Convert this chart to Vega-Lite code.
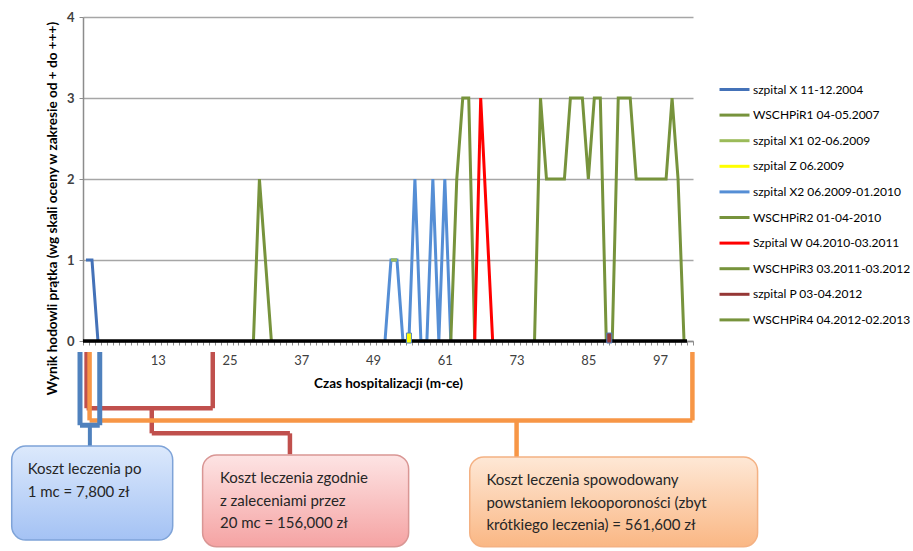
{
  "$schema": "https://vega.github.io/schema/vega-lite/v6.json",
  "width": 610,
  "height": 324,
  "autosize": {"type": "none"},
  "padding": {"left": 83, "top": 17, "right": 220, "bottom": 210},
  "background": "white",
  "config": {"font": "Lato", "view": {"stroke": null}, "axisX": {"labelOverlap": false}},
  "datasets": {
    "series": [
      {"series": "szpital X 11-12.2004", "month": 1, "value": 1},
      {"series": "szpital X 11-12.2004", "month": 2, "value": 1},
      {"series": "szpital X 11-12.2004", "month": 3, "value": 0},
      {"series": "WSCHPiR1 04-05.2007", "month": 29, "value": 0},
      {"series": "WSCHPiR1 04-05.2007", "month": 30, "value": 2},
      {"series": "WSCHPiR1 04-05.2007", "month": 31, "value": 1},
      {"series": "WSCHPiR1 04-05.2007", "month": 32, "value": 0},
      {"series": "szpital X1 02-06.2009", "month": 52, "value": 1},
      {"series": "szpital X1 02-06.2009", "month": 53, "value": 1},
      {"series": "szpital Z 06.2009", "month": 55, "value": 0},
      {"series": "szpital X2 06.2009-01.2010", "month": 51, "value": 0},
      {"series": "szpital X2 06.2009-01.2010", "month": 52, "value": 1},
      {"series": "szpital X2 06.2009-01.2010", "month": 53, "value": 1},
      {"series": "szpital X2 06.2009-01.2010", "month": 54, "value": 0},
      {"series": "szpital X2 06.2009-01.2010", "month": 55, "value": 0},
      {"series": "szpital X2 06.2009-01.2010", "month": 56, "value": 2},
      {"series": "szpital X2 06.2009-01.2010", "month": 57, "value": 0},
      {"series": "szpital X2 06.2009-01.2010", "month": 58, "value": 0},
      {"series": "szpital X2 06.2009-01.2010", "month": 59, "value": 2},
      {"series": "szpital X2 06.2009-01.2010", "month": 60, "value": 0},
      {"series": "szpital X2 06.2009-01.2010", "month": 61, "value": 2},
      {"series": "szpital X2 06.2009-01.2010", "month": 62, "value": 0},
      {"series": "WSCHPiR2 01-04-2010", "month": 62, "value": 0},
      {"series": "WSCHPiR2 01-04-2010", "month": 63, "value": 2},
      {"series": "WSCHPiR2 01-04-2010", "month": 64, "value": 3},
      {"series": "WSCHPiR2 01-04-2010", "month": 65, "value": 3},
      {"series": "WSCHPiR2 01-04-2010", "month": 66, "value": 0},
      {"series": "Szpital W 04.2010-03.2011", "month": 66, "value": 0},
      {"series": "Szpital W 04.2010-03.2011", "month": 67, "value": 3},
      {"series": "Szpital W 04.2010-03.2011", "month": 68, "value": 1.5},
      {"series": "Szpital W 04.2010-03.2011", "month": 69, "value": 0},
      {"series": "WSCHPiR3 03.2011-03.2012", "month": 76, "value": 0},
      {"series": "WSCHPiR3 03.2011-03.2012", "month": 77, "value": 3},
      {"series": "WSCHPiR3 03.2011-03.2012", "month": 78, "value": 2},
      {"series": "WSCHPiR3 03.2011-03.2012", "month": 79, "value": 2},
      {"series": "WSCHPiR3 03.2011-03.2012", "month": 80, "value": 2},
      {"series": "WSCHPiR3 03.2011-03.2012", "month": 81, "value": 2},
      {"series": "WSCHPiR3 03.2011-03.2012", "month": 82, "value": 3},
      {"series": "WSCHPiR3 03.2011-03.2012", "month": 83, "value": 3},
      {"series": "WSCHPiR3 03.2011-03.2012", "month": 84, "value": 3},
      {"series": "WSCHPiR3 03.2011-03.2012", "month": 85, "value": 2},
      {"series": "WSCHPiR3 03.2011-03.2012", "month": 86, "value": 3},
      {"series": "WSCHPiR3 03.2011-03.2012", "month": 87, "value": 3},
      {"series": "WSCHPiR3 03.2011-03.2012", "month": 88, "value": 0},
      {"series": "szpital P 03-04.2012", "month": 88, "value": 0},
      {"series": "szpital P 03-04.2012", "month": 89, "value": 0},
      {"series": "WSCHPiR4 04.2012-02.2013", "month": 89, "value": 0},
      {"series": "WSCHPiR4 04.2012-02.2013", "month": 90, "value": 3},
      {"series": "WSCHPiR4 04.2012-02.2013", "month": 91, "value": 3},
      {"series": "WSCHPiR4 04.2012-02.2013", "month": 92, "value": 3},
      {"series": "WSCHPiR4 04.2012-02.2013", "month": 93, "value": 2},
      {"series": "WSCHPiR4 04.2012-02.2013", "month": 94, "value": 2},
      {"series": "WSCHPiR4 04.2012-02.2013", "month": 95, "value": 2},
      {"series": "WSCHPiR4 04.2012-02.2013", "month": 96, "value": 2},
      {"series": "WSCHPiR4 04.2012-02.2013", "month": 97, "value": 2},
      {"series": "WSCHPiR4 04.2012-02.2013", "month": 98, "value": 2},
      {"series": "WSCHPiR4 04.2012-02.2013", "month": 99, "value": 3},
      {"series": "WSCHPiR4 04.2012-02.2013", "month": 100, "value": 2},
      {"series": "WSCHPiR4 04.2012-02.2013", "month": 101, "value": 0}
    ]
  },
  "layer": [
    {
      "data": {"name": "series"},
      "mark": {"type": "line", "strokeWidth": 3},
      "encoding": {
        "x": {
          "field": "month",
          "type": "quantitative",
          "scale": {"domain": [0.5, 102.5], "nice": false, "zero": false},
          "axis": {
            "title": "Czas hospitalizacji (m-ce)",
            "values": [0.5,1.5,2.5,3.5,4.5,5.5,6.5,7.5,8.5,9.5,10.5,11.5,12.5,13.5,14.5,15.5,16.5,17.5,18.5,19.5,20.5,21.5,22.5,23.5,24.5,25.5,26.5,27.5,28.5,29.5,30.5,31.5,32.5,33.5,34.5,35.5,36.5,37.5,38.5,39.5,40.5,41.5,42.5,43.5,44.5,45.5,46.5,47.5,48.5,49.5,50.5,51.5,52.5,53.5,54.5,55.5,56.5,57.5,58.5,59.5,60.5,61.5,62.5,63.5,64.5,65.5,66.5,67.5,68.5,69.5,70.5,71.5,72.5,73.5,74.5,75.5,76.5,77.5,78.5,79.5,80.5,81.5,82.5,83.5,84.5,85.5,86.5,87.5,88.5,89.5,90.5,91.5,92.5,93.5,94.5,95.5,96.5,97.5,98.5,99.5,100.5,101.5,102.5],
            "tickCount": 200,
            "labelExpr": "(datum.value - 12.5) % 12 == 0 && datum.value > 1 && datum.value < 100 ? format(datum.value + 0.5, 'd') : ''",
            "labelOffset": 3,
            "labelOverlap": false,
            "labelFlush": false,
            "labelBound": false,
            "labelPadding": 9,
            "labelFontSize": 13,
            "grid": false,
            "domainColor": "#8c8c8c",
            "domainWidth": 1.5,
            "tickColor": "#8c8c8c",
            "tickSize": 4,
            "tickWidth": 1,
            "labelColor": "#404040",
            "titleFontSize": 13.5,
            "titleFontWeight": "bold",
            "titleColor": "#000000",
            "titleY": 42,
            "titleBaseline": "middle"
          }
        },
        "y": {
          "field": "value",
          "type": "quantitative",
          "scale": {"domain": [0, 4], "nice": false},
          "axis": {
            "title": "Wynik hodowli prątka (wg  skali oceny w zakresie od + do +++)",
            "values": [0, 1, 2, 3, 4],
            "format": "d",
            "grid": true,
            "gridColor": "#a6a6a6",
            "gridWidth": 1.5,
            "domainColor": "#8c8c8c",
            "domainWidth": 1.5,
            "tickColor": "#8c8c8c",
            "tickSize": 4,
            "labelFontSize": 13,
            "labelFontWeight": "bold",
            "labelColor": "#404040",
            "labelPadding": 5,
            "titleFontSize": 13.6,
            "titleFontWeight": "bold",
            "titleColor": "#000000",
            "titleX": -31,
            "titleY": 191,
            "titleBaseline": "middle"
          }
        },
        "color": {
          "field": "series",
          "type": "nominal",
          "scale": {
            "domain": ["szpital X 11-12.2004", "WSCHPiR1 04-05.2007", "szpital X1 02-06.2009", "szpital Z 06.2009", "szpital X2 06.2009-01.2010", "WSCHPiR2 01-04-2010", "Szpital W 04.2010-03.2011", "WSCHPiR3 03.2011-03.2012", "szpital P 03-04.2012", "WSCHPiR4 04.2012-02.2013"],
            "range": ["#4472b8", "#77933c", "#9bbb59", "#ffff00", "#558ed5", "#77933c", "#ff0000", "#77933c", "#953735", "#77933c"]
          },
          "legend": {
            "title": null,
            "orient": "none",
            "legendX": 635,
            "legendY": 56,
            "padding": 0,
            "symbolType": "stroke",
            "symbolSize": 900,
            "symbolStrokeWidth": 3,
            "labelFontSize": 12,
            "labelFont": "Lato",
            "labelColor": "#000000",
            "labelOffset": 2,
            "labelLimit": 300,
            "rowPadding": 2.6
          }
        }
      }
    },
    {
      "data": {"name": "series"},
      "transform": [{"filter": {"field": "series", "equal": "szpital X1 02-06.2009"}}],
      "mark": {"type": "line", "strokeWidth": 3},
      "encoding": {
        "x": {"field": "month", "type": "quantitative"},
        "y": {"field": "value", "type": "quantitative"},
        "color": {"field": "series", "type": "nominal"}
      }
    },
    {
      "data": {"values": [{}]},
      "mark": {"type": "rule", "color": "#000000", "strokeWidth": 3.5},
      "encoding": {"x": {"datum": 0.5}, "x2": {"datum": 101.5}, "y": {"datum": 0}}
    },
    {
      "data": {"name": "series"},
      "transform": [
        {"filter": {"field": "series", "oneOf": ["szpital Z 06.2009", "szpital P 03-04.2012"]}},
        {"aggregate": [{"op": "mean", "field": "month", "as": "month"}], "groupby": ["series"]}
      ],
      "mark": {"type": "point", "filled": true, "shape": "M-0.5,-1.6H0.5V0.4H-0.5Z", "size": 100, "stroke": "#4f81bd", "strokeWidth": 1, "opacity": 1},
      "encoding": {
        "x": {"field": "month", "type": "quantitative"},
        "y": {"datum": 0},
        "fill": {"field": "series", "type": "nominal", "scale": {"domain": ["szpital Z 06.2009", "szpital P 03-04.2012"], "range": ["#ffff00", "#953735"]}, "legend": null}
      }
    },
    {
      "data": {"values": [{"label": "Koszt leczenia zgodnie\nz zaleceniami przez\n20 mc = 156,000 zł", "start": 1.1, "end": 22.2}]},
      "layer": [
        {
          "transform": [{"fold": ["start", "end"], "as": ["edge", "month"]}],
          "mark": {"type": "rule", "color": "#c0504d", "strokeWidth": 4.5},
          "encoding": {"x": {"field": "month", "type": "quantitative"}, "y": {"datum": -0.136}, "y2": {"datum": -0.83}}
        },
        {
          "mark": {"type": "rule", "color": "#c0504d", "strokeWidth": 4.5},
          "encoding": {"x": {"field": "start", "type": "quantitative"}, "x2": {"field": "end"}, "y": {"datum": -0.83}}
        },
        {
          "mark": {"type": "rule", "color": "#c0504d", "strokeWidth": 4.5},
          "encoding": {"x": {"datum": 12}, "y": {"datum": -0.83}, "y2": {"datum": -1.14}}
        },
        {
          "mark": {"type": "rule", "color": "#c0504d", "strokeWidth": 4.5},
          "encoding": {"x": {"datum": 12}, "x2": {"datum": 35.1}, "y": {"datum": -1.14}}
        },
        {
          "mark": {"type": "rule", "color": "#c0504d", "strokeWidth": 4.5},
          "encoding": {"x": {"datum": 35.1}, "y": {"datum": -1.14}, "y2": {"datum": -1.40}}
        },
        {
          "mark": {"type": "rect", "cornerRadius": 14, "stroke": "#d99694", "strokeWidth": 1.5,
            "fill": {"gradient": "linear", "x1": 0, "y1": 0, "x2": 0, "y2": 1, "stops": [{"offset": 0, "color": "#fde4e4"}, {"offset": 1, "color": "#f5a3a3"}]}},
          "encoding": {"x": {"datum": 20.5}, "x2": {"datum": 54.95}, "y": {"datum": -1.407}, "y2": {"datum": -2.54}}
        },
        {
          "mark": {"type": "text", "align": "left", "baseline": "alphabetic", "lineBreak": "\n", "lineHeight": 22.7, "fontSize": 15, "font": "Lato", "color": "#262626"},
          "encoding": {"x": {"datum": 23.4}, "y": {"datum": -1.753}, "text": {"field": "label"}}
        }
      ]
    },
    {
      "data": {"values": [{"label": "Koszt leczenia spowodowany\npowstaniem lekooporoności (zbyt\nkrótkiego leczenia) = 561,600 zł", "start": 1.6, "end": 102.4}]},
      "layer": [
        {
          "transform": [{"fold": ["start", "end"], "as": ["edge", "month"]}],
          "mark": {"type": "rule", "color": "#f79646", "strokeWidth": 4.5},
          "encoding": {"x": {"field": "month", "type": "quantitative"}, "y": {"datum": -0.136}, "y2": {"datum": -0.98}}
        },
        {
          "mark": {"type": "rule", "color": "#f79646", "strokeWidth": 4.5},
          "encoding": {"x": {"field": "start", "type": "quantitative"}, "x2": {"field": "end"}, "y": {"datum": -0.98}}
        },
        {
          "mark": {"type": "rule", "color": "#f79646", "strokeWidth": 4.5},
          "encoding": {"x": {"datum": 73}, "y": {"datum": -0.98}, "y2": {"datum": -1.44}}
        },
        {
          "mark": {"type": "rect", "cornerRadius": 14, "stroke": "#f4b183", "strokeWidth": 1.5,
            "fill": {"gradient": "linear", "x1": 0, "y1": 0, "x2": 0, "y2": 1, "stops": [{"offset": 0, "color": "#fee8d6"}, {"offset": 1, "color": "#fab784"}]}},
          "encoding": {"x": {"datum": 65.17}, "x2": {"datum": 113.3}, "y": {"datum": -1.432}, "y2": {"datum": -2.54}}
        },
        {
          "mark": {"type": "text", "align": "left", "baseline": "alphabetic", "lineBreak": "\n", "lineHeight": 22.7, "fontSize": 15, "font": "Lato", "color": "#262626"},
          "encoding": {"x": {"datum": 67.96}, "y": {"datum": -1.778}, "text": {"field": "label"}}
        }
      ]
    },
    {
      "data": {"values": [{"label": "Koszt leczenia po\n1 mc = 7,800 zł", "start": 0, "end": 3.3}]},
      "layer": [
        {
          "transform": [{"fold": ["start", "end"], "as": ["edge", "month"]}],
          "mark": {"type": "rule", "color": "#4f81bd", "strokeWidth": 5},
          "encoding": {"x": {"field": "month", "type": "quantitative"}, "y": {"datum": -0.136}, "y2": {"datum": -1.04}}
        },
        {
          "mark": {"type": "rule", "color": "#4f81bd", "strokeWidth": 5},
          "encoding": {"x": {"field": "start", "type": "quantitative"}, "x2": {"field": "end"}, "y": {"datum": -1.04}}
        },
        {
          "mark": {"type": "rule", "color": "#4f81bd", "strokeWidth": 4},
          "encoding": {"x": {"datum": 1.65}, "y": {"datum": -1.04}, "y2": {"datum": -1.30}}
        },
        {
          "mark": {"type": "rect", "cornerRadius": 14, "stroke": "#7ea3d8", "strokeWidth": 1.5,
            "fill": {"gradient": "linear", "x1": 0, "y1": 0, "x2": 0, "y2": 1, "stops": [{"offset": 0, "color": "#dce9fc"}, {"offset": 1, "color": "#a4c2f4"}]}},
          "encoding": {"x": {"datum": -11.42}, "x2": {"datum": 15.5}, "y": {"datum": -1.296}, "y2": {"datum": -2.457}}
        },
        {
          "mark": {"type": "text", "align": "left", "baseline": "alphabetic", "lineBreak": "\n", "lineHeight": 22.7, "fontSize": 15, "font": "Lato", "color": "#262626"},
          "encoding": {"x": {"datum": -8.75}, "y": {"datum": -1.642}, "text": {"field": "label"}}
        }
      ]
    }
  ]
}
